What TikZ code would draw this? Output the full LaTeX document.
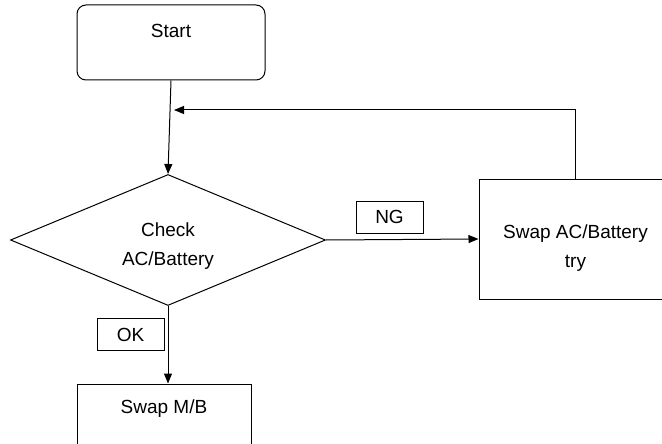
\documentclass[tikz,border=0pt]{standalone}
\usepackage{fontspec}
\setmainfont{Liberation Sans}
\usetikzlibrary{positioning, arrows.meta, shapes.geometric}

\begin{document}
\begin{tikzpicture}[
    x=1pt, y=-1pt,
    every node/.style={font=\fontsize{19}{29}\selectfont},
    box/.style={rectangle, draw, line width=1pt, align=center, text height=14pt},
    startbox/.style={box, rounded corners=9pt, minimum width=188pt, minimum height=75pt, text depth=23pt},
    decision/.style={diamond, draw, line width=1pt, shape aspect=2.4, minimum width=315pt, minimum height=131pt, inner sep=0pt, align=center, text height=50pt, text depth=0pt},
    tag/.style={rectangle, draw, line width=0.8pt, minimum width=67pt, minimum height=32pt, inner sep=0pt},
    arrow/.style={-{Triangle[length=10pt, width=8pt]}, line width=1pt}
]
\useasboundingbox (0,0) rectangle (662,444);
\clip (0,0) rectangle (662,444);

% Start block
\node[startbox] (start) at (171,42.5) {Start};

% Check block
\node[decision] (check) at (168,240) {Check\\AC/Battery};

% Swap blocks
\node[box, minimum width=193pt, minimum height=120pt, text height=56pt, text depth=0pt] (swapac) at (575.5,239) {Swap AC/Battery\\try};
\node[box, minimum width=174pt, minimum height=80pt, text depth=36pt] (swapmb) at (164,424) {Swap M/B};

% Arrows with labels
\draw[arrow] (start.south) -- (check.north);
\draw[arrow] (check.east) -- (swapac.west);
\draw[arrow] (check.south) -- (check.south |- swapmb.north);
\coordinate (loopend) at (174,110);
\draw[arrow] (swapac.north) |- (loopend);

\node[tag] (ng) at (389.5,217) {NG};
\node[tag] (ok) at (130.5,334.5) {OK};

\end{tikzpicture}
\end{document}
